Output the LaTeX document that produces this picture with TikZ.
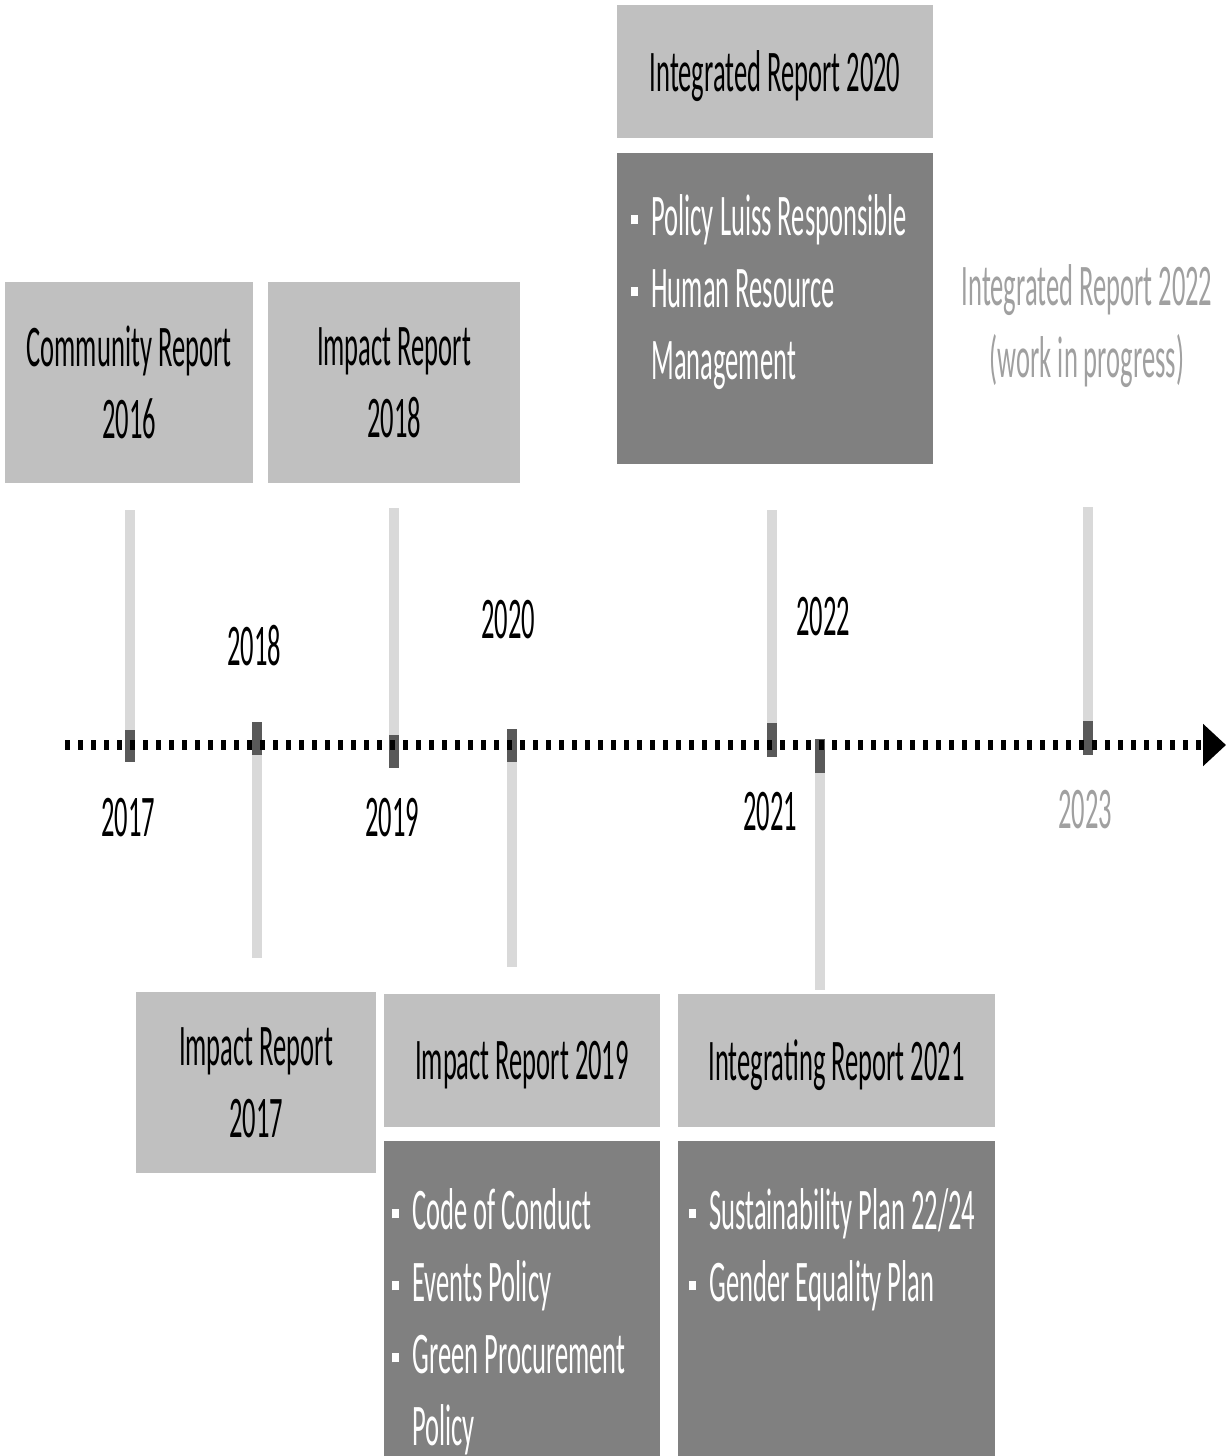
\documentclass[tikz,border=0pt]{standalone}
\usepackage{fontspec}
\setmainfont[FakeStretch=0.45]{Carlito}
\usetikzlibrary{arrows.meta,positioning}
\definecolor{boxlight}{RGB}{192,192,192}
\definecolor{boxdark}{RGB}{128,128,128}
\definecolor{stemlight}{RGB}{217,217,217}
\definecolor{stemdark}{RGB}{89,89,89}
\definecolor{futuregray}{RGB}{160,160,160}
\newcommand{\tlfont}{\fontsize{29.5}{36}\selectfont}
\newcommand{\bul}{\rule[5.5pt]{3.5pt}{4.5pt}}

\begin{document}
\begin{tikzpicture}[x=0.5pt,y=0.5pt,
  rbox/.style={rectangle,fill=boxlight,align=center,font=\tlfont,inner sep=0pt},
  onerow/.style={text depth=0pt},
  lbox/.style={rectangle,fill=boxdark,anchor=north west,inner sep=0pt},
  items/.style={anchor=north west,inner sep=0pt,text=white,font=\tlfont},
  year/.style={font=\tlfont,inner sep=0pt},
  stem/.style={line width=5pt,stemlight},
  tickmark/.style={line width=5pt,stemdark}]
\useasboundingbox (0,0) rectangle (1228,-1456);

% reports above the axis
\node[rbox,minimum width=124pt,minimum height=100.5pt] (cr16) at (129,-382.5) {Community Report\\2016};
\node[rbox,minimum width=126pt,minimum height=100.5pt] (ir18) at (394,-382.5) {Impact Report\\2018};
\node[rbox,onerow,minimum width=158pt,minimum height=66.5pt] (ir20) at (775,-71.5) {Integrated Report 2020};
\node[lbox,minimum width=158pt,minimum height=155.5pt] (ir20list) at (617,-153) {};
\node[items] (ir20txt) at (631,-184.6) {\begin{tabular}{@{}l@{\hspace{6.5pt}}l@{}}
  \bul & Policy Luiss Responsible\\
  \bul & Human Resource\\
       & Management\end{tabular}};
\node[year,text=futuregray,align=center] (ir22) at (1087,-326) {Integrated Report 2022\\(work in progress)};

% reports below the axis
\node[rbox,minimum width=120pt,minimum height=90.5pt]  (ir17) at (256,-1082.5) {Impact Report\\2017};
\node[rbox,onerow,minimum width=138pt,minimum height=66.5pt] (ir19) at (522,-1060.5) {Impact Report 2019};
\node[lbox,minimum width=138pt,minimum height=157.5pt] (ir19list) at (384,-1141) {};
\node[items] (ir19txt) at (392,-1178.6) {\begin{tabular}{@{}l@{\hspace{6.5pt}}l@{}}
  \bul & Code of Conduct\\
  \bul & Events Policy\\
  \bul & Green Procurement\\
       & Policy\end{tabular}};
\node[rbox,onerow,minimum width=158.5pt,minimum height=66.5pt] (ir21) at (836.5,-1060.5) {Integrating Report 2021};
\node[lbox,minimum width=158.5pt,minimum height=157.5pt] (ir21list) at (678,-1141) {};
\node[items] (ir21txt) at (689,-1178.6) {\begin{tabular}{@{}l@{\hspace{6.5pt}}l@{}}
  \bul & Sustainability Plan 22/24\\
  \bul & Gender Equality Plan\end{tabular}};

% years
\node[year] (y2017) at (128,-818) {2017};
\node[year] (y2018) at (254,-646) {2018};
\node[year] (y2019) at (392,-818) {2019};
\node[year] (y2020) at (508,-620) {2020};
\node[year] (y2021) at (770,-812) {2021};
\node[year] (y2022) at (823,-617) {2022};
\node[year,text=futuregray] (y2023) at (1085,-810) {2023};

% stems: x / light from / light to / dark from / dark to
\foreach \x/\la/\lb/\da/\db in {130/510/730/730/762, 257/755/958/722/755,
    394/508/735/735/768, 512/762/967/729/762, 772/510/723/723/757,
    820/773/990/739/773, 1088/507/721/721/755}{
  \draw[stem] (\x,-\la) -- (\x,-\lb);
  \draw[tickmark] (\x,-\da) -- (\x,-\db);
}

% time axis
\coordinate (axstart) at (65,-745);
\coordinate (axend) at (1226,-745);
\draw[line width=5pt,dash pattern=on 2.5pt off 4pt,
  -{Triangle[length=11.5pt,width=20.5pt]}] (axstart) -- (axend);
\end{tikzpicture}
\end{document}
